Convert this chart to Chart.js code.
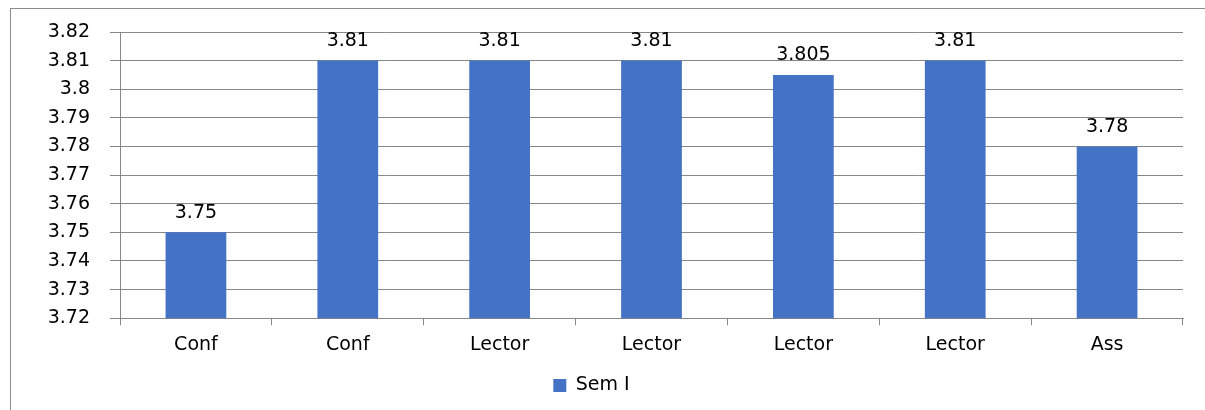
<!DOCTYPE html>
<html>
<head>
<meta charset="utf-8">
<script src="https://cdn.jsdelivr.net/npm/chart.js@4"></script>
<style>
  html, body { margin: 0; padding: 0; background: #fff; }
  #caixa { position: relative; width: 1205px; height: 410px; overflow: hidden; }
  #borda { position: absolute; left: 10px; top: 8px; width: 1300px; height: 500px; border: 1.5px solid #8c8c8c; }
  canvas { position: absolute; left: 0; top: 0; }
</style>
</head>
<body>
<div id="caixa">
  <div id="borda"></div>
  <canvas id="grafico" width="1205" height="410"></canvas>
</div>
<script>
// dados do grafico
const categorias = ["Conf", "Conf", "Lector", "Lector", "Lector", "Lector", "Ass"];
const valoresSemI = [3.75, 3.81, 3.81, 3.81, 3.805, 3.81, 3.78];
const nomeSerie = "Sem I";
const eixoMin = 3.72;
const eixoMax = 3.82;
const eixoPasso = 0.01;

const fonte = "'DejaVu Sans', sans-serif";
const corBarra = "#4472C4";
const corGrade = "#878787";

function formatar(v) {
  return parseFloat(Number(v).toFixed(3)).toString();
}

// rotulos em cima das barras
const rotulosBarras = {
  id: "rotulosBarras",
  afterDatasetsDraw(chart) {
    const ctx = chart.ctx;
    const meta = chart.getDatasetMeta(0);
    ctx.save();
    ctx.font = "19px " + fonte;
    ctx.fillStyle = "#000";
    ctx.textAlign = "center";
    ctx.textBaseline = "bottom";
    meta.data.forEach((barra, i) => {
      ctx.fillText(formatar(valoresSemI[i]), barra.x, barra.y - 10);
    });
    ctx.restore();
  }
};

new Chart(document.getElementById("grafico"), {
  type: "bar",
  data: {
    labels: categorias,
    datasets: [{
      label: nomeSerie,
      data: valoresSemI,
      backgroundColor: corBarra,
      borderWidth: 0,
      barPercentage: 0.4,
      categoryPercentage: 1
    }]
  },
  options: {
    responsive: false,
    animation: false,
    layout: { padding: { top: 32, right: 22, bottom: 5, left: 0 } },
    plugins: {
      tooltip: { enabled: false },
      legend: {
        position: "bottom",
        labels: {
          color: "#000",
          font: { family: fonte, size: 19 },
          boxWidth: 13,
          boxHeight: 13,
          padding: 12
        }
      }
    },
    scales: {
      x: {
        grid: { drawOnChartArea: false, drawTicks: true, tickLength: 7, color: corGrade, offset: true },
        border: { color: corGrade, width: 1 },
        ticks: { color: "#000", font: { family: fonte, size: 19 }, padding: 8 }
      },
      y: {
        min: eixoMin,
        max: eixoMax,
        afterFit(scale) { scale.width = 120; },
        grid: { color: corGrade, tickLength: 10, lineWidth: 1 },
        border: { color: corGrade, width: 1 },
        ticks: {
          stepSize: eixoPasso,
          color: "#000",
          font: { family: fonte, size: 19 },
          padding: 20,
          callback: v => formatar(v)
        }
      }
    }
  },
  plugins: [rotulosBarras]
});
</script>
</body>
</html>
